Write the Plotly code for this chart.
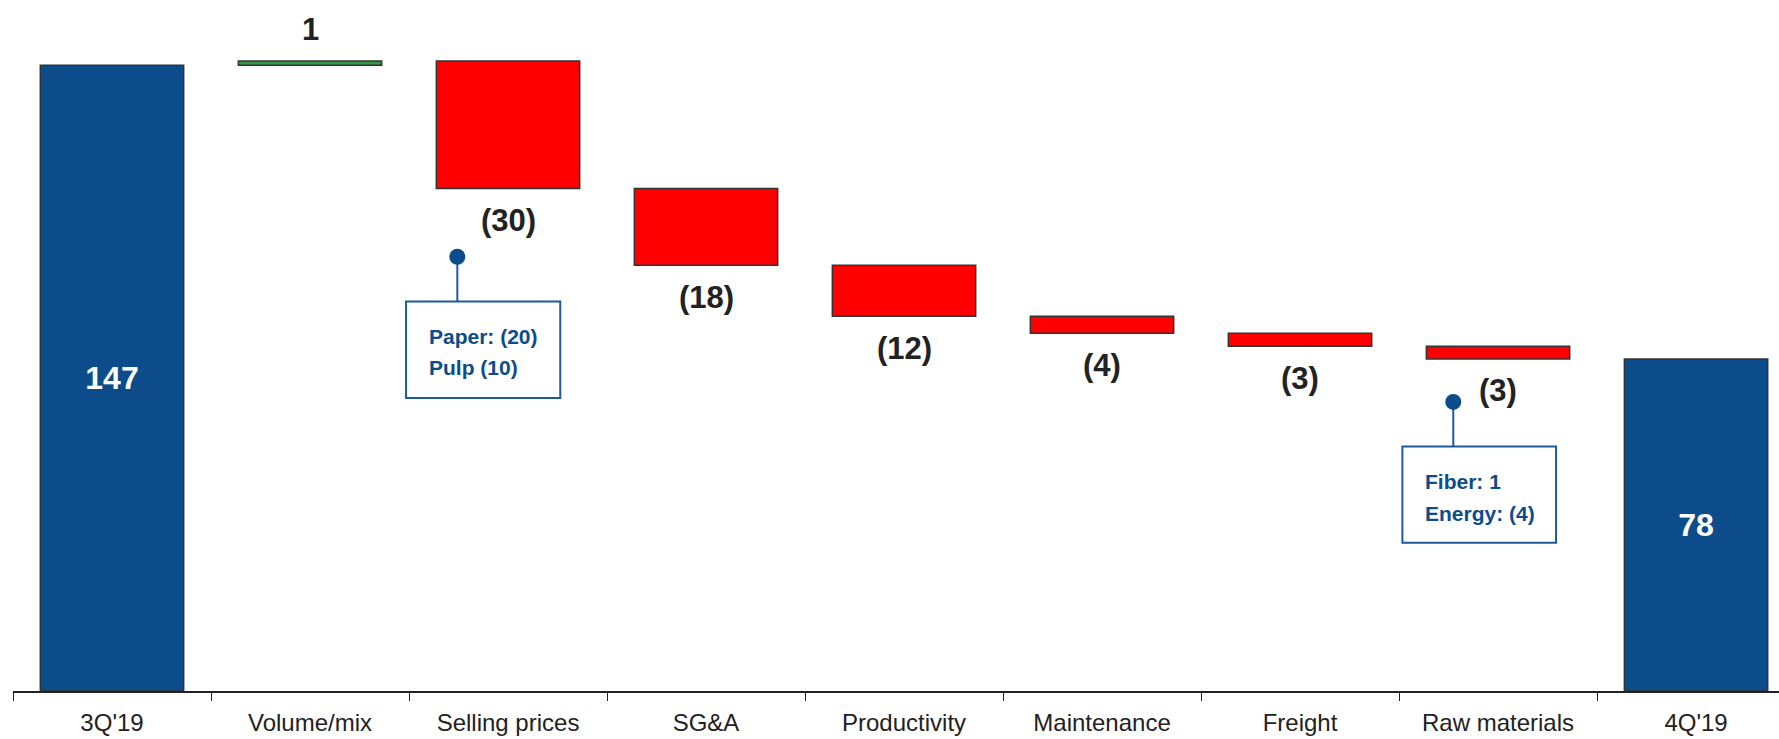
import plotly.graph_objects as go

categories = ["3Q'19", "Volume/mix", "Selling prices", "SG&A", "Productivity",
              "Maintenance", "Freight", "Raw materials", "4Q'19"]
values = [147, 1, -30, -18, -12, -4, -3, -3, 78]
measures = ["absolute", "relative", "relative", "relative", "relative",
            "relative", "relative", "relative", "total"]
labels = ["147", "1", "(30)", "(18)", "(12)", "(4)", "(3)", "(3)", "78"]

callout_lines = [["Paper: (20)", "Pulp (10)"], ["Fiber: 1", "Energy: (4)"]]

BLUE = "#0D4C8B"
RED = "#FF0000"
GREEN = "#339944"
EDGE = "#333333"
DARK = "#222222"
FONT = "Liberation Sans, Arial, sans-serif"

fig = go.Figure()
fig.add_trace(go.Waterfall(
    x=categories, y=values, measure=measures,
    text=labels,
    textposition=["inside" if m != "relative" else "none" for m in measures],
    insidetextanchor="middle",
    insidetextfont=dict(family=FONT, size=32, color="white", weight="bold"),
    width=0.724,
    increasing=dict(marker=dict(color=GREEN, line=dict(color=EDGE, width=1.5))),
    decreasing=dict(marker=dict(color=RED, line=dict(color=EDGE, width=1.5))),
    totals=dict(marker=dict(color=BLUE, line=dict(color=EDGE, width=1.5))),
    connector=dict(visible=False),
    hoverinfo="skip",
))

annotations = []
cum = 0
for i, (m, v, lab) in enumerate(zip(measures, values, labels)):
    if m == "absolute":
        cum = v
        continue
    if m == "total":
        continue
    cum = cum + v
    shift = 31 if v >= 0 else -32
    annotations.append(dict(x=i, y=cum, xref="x", yref="y", text=lab, showarrow=False,
                            yanchor="middle", yshift=shift,
                            font=dict(family=FONT, size=31, color=DARK, weight="bold")))

# callout boxes (layout decorations)
boxes = [
    dict(x0=1.485, x1=2.264, y0=68.8, y1=91.5, dotx=1.744, doty=102.0, tx=1.589, ty=[83.35, 75.92]),
    dict(x0=6.517, x1=7.293, y0=34.8, y1=57.4, dotx=6.774, doty=67.9, tx=6.620, ty=[49.14, 41.69]),
]
shapes = []
for b, lines in zip(boxes, callout_lines):
    shapes.append(dict(type="rect", xref="x", yref="y", x0=b["x0"], x1=b["x1"],
                       y0=b["y0"], y1=b["y1"], line=dict(color="#1E5A9A", width=2),
                       fillcolor="white"))
    shapes.append(dict(type="line", xref="x", yref="y", x0=b["dotx"], x1=b["dotx"],
                       y0=b["y1"], y1=b["doty"], line=dict(color="#1E5A9A", width=2)))
    shapes.append(dict(type="circle", xref="x", yref="y", xsizemode="pixel", ysizemode="pixel",
                       xanchor=b["dotx"], yanchor=b["doty"], x0=-8, x1=8, y0=-8, y1=8,
                       fillcolor=BLUE, line=dict(color=BLUE, width=0)))
    for line_text, ty in zip(lines, b["ty"]):
        annotations.append(dict(x=b["tx"], y=ty, xref="x", yref="y", text=line_text,
                                showarrow=False, xanchor="left", yanchor="middle", align="left",
                                font=dict(family=FONT, size=21, color=BLUE, weight="bold")))

fig.update_layout(
    width=1779, height=739,
    margin=dict(l=13, r=0, t=0, b=48),
    paper_bgcolor="white", plot_bgcolor="white",
    showlegend=False,
    shapes=shapes, annotations=annotations,
    xaxis=dict(range=[-0.5, 8.419], showline=True, linecolor=DARK, linewidth=2,
               ticks="outside", tickson="boundaries", ticklen=8, tickwidth=1, tickcolor=DARK,
               ticklabelstandoff=9,
               tickfont=dict(family=FONT, size=24, color=DARK), showgrid=False,
               zeroline=False, fixedrange=True),
    yaxis=dict(range=[0, 162.3], visible=False, showgrid=False, zeroline=False, fixedrange=True),
)

fig.write_html("out.html")
